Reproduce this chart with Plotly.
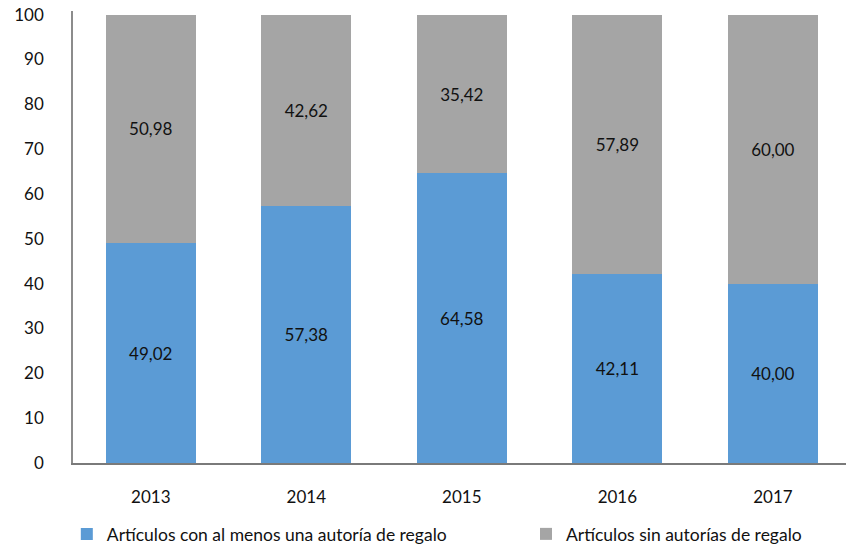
import plotly.graph_objects as go

years = ["2013", "2014", "2015", "2016", "2017"]
con_regalo = [49.02, 57.38, 64.58, 42.11, 40.00]
sin_regalo = [50.98, 42.62, 35.42, 57.89, 60.00]
y_ticks = [0, 10, 20, 30, 40, 50, 60, 70, 80, 90, 100]

W, H = 846, 545
L, R, T, B = 73, 0, 11, 82
FONT = "Lato"
FS = 17

fig = go.Figure()
fig.add_trace(go.Bar(
    x=years, y=con_regalo, name="Artículos con al menos una autoría de regalo",
    marker=dict(color="#5B9BD5", line=dict(width=0)),
    texttemplate="%{y:.2f}", textposition="inside", insidetextanchor="middle",
    textfont=dict(color="#111111", size=FS, family=FONT),
    legend="legend",
))
fig.add_trace(go.Bar(
    x=years, y=sin_regalo, name="Artículos sin autorías de regalo",
    marker=dict(color="#A5A5A5", line=dict(width=0)),
    texttemplate="%{y:.2f}", textposition="inside", insidetextanchor="middle",
    textfont=dict(color="#111111", size=FS, family=FONT),
    legend="legend2",
))

leg_common = dict(orientation="h", xanchor="left", yref="container",
                  y=1 - 534 / H, yanchor="middle",
                  font=dict(size=17.5, family=FONT, color="#111111"),
                  bgcolor="rgba(0,0,0,0)")

fig.update_layout(
    width=W, height=H,
    margin=dict(l=L, r=R, t=T, b=B, pad=0, autoexpand=False),
    barmode="stack", bargap=0.422,
    separators=",.",
    plot_bgcolor="white", paper_bgcolor="white",
    font=dict(family=FONT, size=FS, color="#111111"),
    showlegend=True,
    legend=dict(x=-0.008, **leg_common),
    legend2=dict(x=0.586, **leg_common),
    xaxis=dict(type="category", range=[-0.5, 4.47], showgrid=False,
               showline=True, linecolor="#7a7a7a", linewidth=2,
               ticks="", ticklabelstandoff=18, automargin=False),
    yaxis=dict(range=[0, 100.8], tickvals=y_ticks, showgrid=False,
               showline=True, linecolor="#8c8c8c", linewidth=1.5,
               ticks="", ticklabelstandoff=24, zeroline=False, automargin=False),
)

fig.write_html("out.html", config={"displayModeBar": False},
               post_script="document.body.style.margin='0';document.body.style.padding='0';")
